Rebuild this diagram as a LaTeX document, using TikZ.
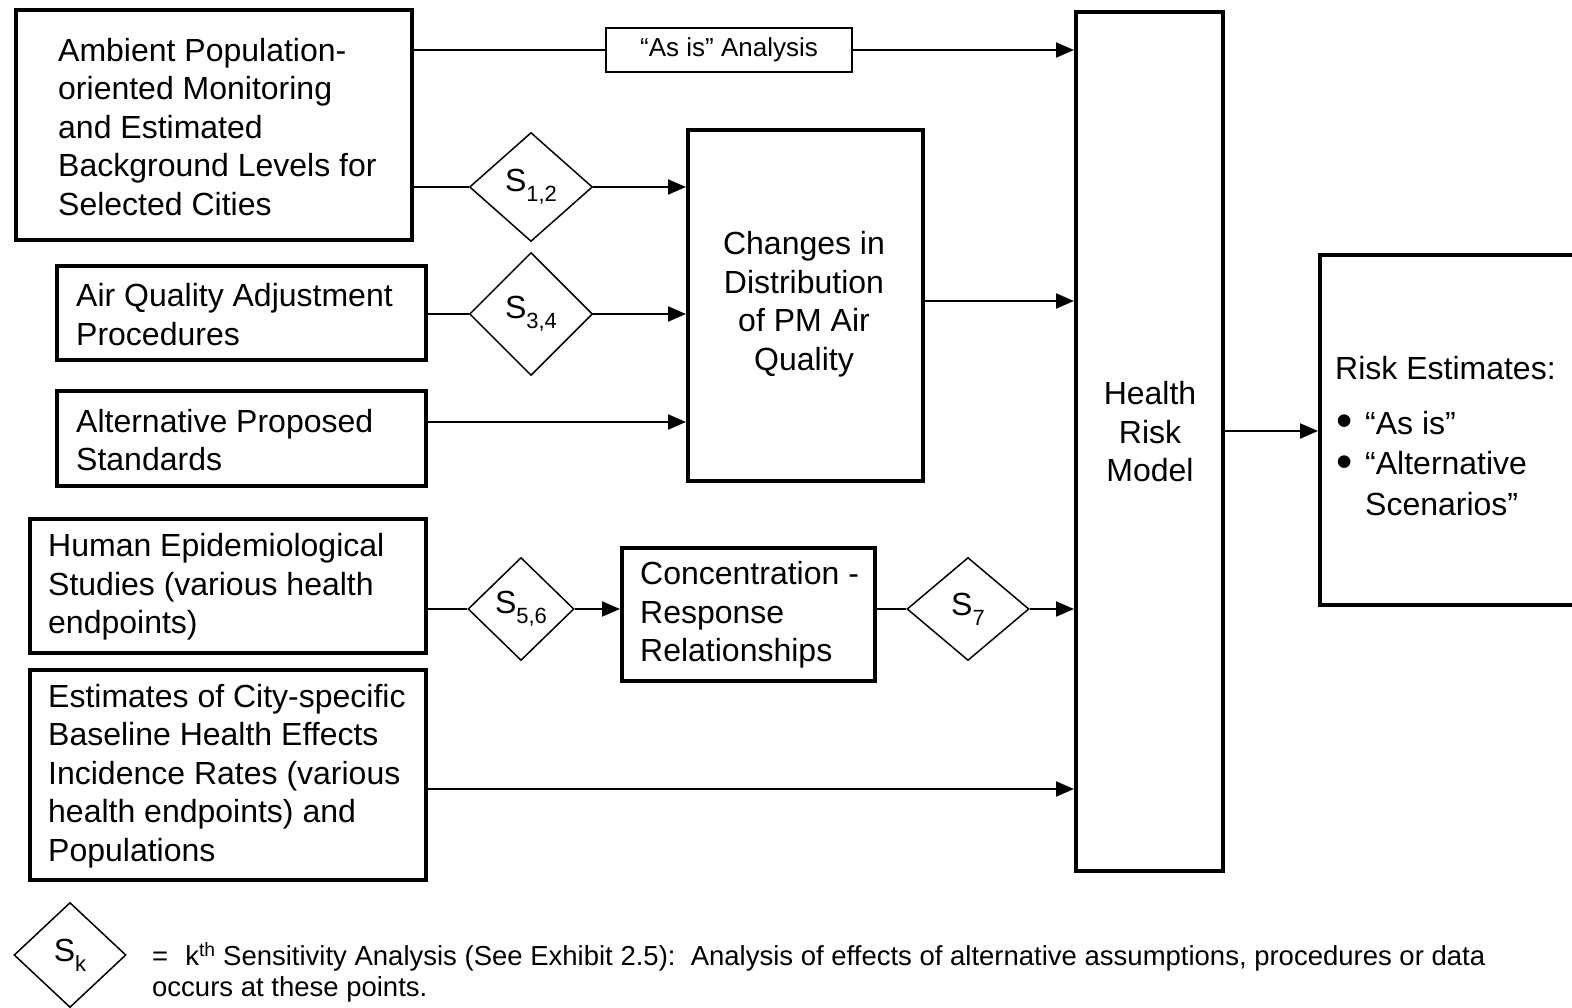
\documentclass[tikz,border=0pt]{standalone}
\usepackage{fontspec}
\usepackage{graphicx}
\setmainfont{Liberation Sans}
\usetikzlibrary{shapes.geometric,arrows.meta}
\newcommand{\Ssub}[1]{S\raisebox{-10pt}{\fontsize{22}{22}\selectfont #1}}
\newcommand{\bigbul}{\hspace{1pt}\raisebox{-2.5pt}{\scalebox{1.45}{•}}}
\begin{document}
\begin{tikzpicture}[x=1pt,y=-1pt,
  box/.style={draw, line width=4pt, inner sep=0pt},
  thinbox/.style={draw, line width=1.8pt, inner sep=0pt},
  dia/.style={draw, diamond, line width=1.5pt, inner sep=0pt, font=\fontsize{32}{38.5}\selectfont},
  txt/.style={inner sep=0pt, align=left, font=\fontsize{32}{38.5}\selectfont},
  ctxt/.style={inner sep=0pt, align=center, font=\fontsize{32}{38.5}\selectfont},
  conn/.style={line width=2pt},
  arr/.style={conn, -{Triangle[length=18pt,width=15pt]}}
]
\useasboundingbox (0,0) rectangle (1572,1008);
\clip (0,0) rectangle (1572,1008);

% boxes
\node[box, minimum width=396pt, minimum height=230pt] (amb) at (214,125) {};
\node[txt, anchor=west] (ambt) at (58,127) {Ambient Population-\\oriented Monitoring\\and Estimated\\Background Levels for\\Selected Cities};

\node[thinbox, minimum width=246pt, minimum height=44pt, font=\fontsize{26}{30}\selectfont] (asis) at (729,50) {“As is” Analysis};

\node[box, minimum width=147pt, minimum height=859pt] (hrm) at (1149.5,441.5) {};
\node[ctxt] (hrmt) at (1150,432) {Health\\Risk\\Model};

\node[box, minimum width=300pt, minimum height=350pt] (risk) at (1470,430) {};
\node[txt, anchor=west] (riskt) at (1335,436) {Risk Estimates:\\[16pt]\makebox[30pt][l]{\bigbul}“As is”\\[2pt]\makebox[30pt][l]{\bigbul}“Alternative\\[2pt]\hspace*{30pt}Scenarios”};

\node[box, minimum width=235pt, minimum height=351pt] (chg) at (805.5,305.5) {};
\node[ctxt] (chgt) at (804,304) {Changes in\\Distribution\\of PM Air\\Quality};

\node[box, minimum width=369pt, minimum height=94pt] (aq) at (241.5,313) {};
\node[txt, anchor=west] (aqt) at (76,314.5) {Air Quality Adjustment\\Procedures};

\node[box, minimum width=369pt, minimum height=95pt] (alt) at (241.5,438.5) {};
\node[txt, anchor=west] (altt) at (76,440) {Alternative Proposed\\Standards};

\node[box, minimum width=396pt, minimum height=134pt] (hum) at (228,586) {};
\node[txt, anchor=west] (humt) at (48,587) {Human Epidemiological\\Studies (various health\\endpoints)};

\node[box, minimum width=396pt, minimum height=210pt] (est) at (228,775) {};
\node[txt, anchor=west] (estt) at (48,776) {Estimates of City-specific\\Baseline Health Effects\\Incidence Rates (various\\health endpoints) and\\Populations};

\node[box, minimum width=253pt, minimum height=133pt] (conc) at (748.5,614.5) {};
\node[txt, anchor=west] (conct) at (640,615) {Concentration -\\Response\\Relationships};

% diamonds
\node[dia, minimum width=123pt, minimum height=109pt] (d12) at (531,187) {\Ssub{1,2}};
\node[dia, minimum width=123pt, minimum height=123pt] (d34) at (531,314) {\Ssub{3,4}};
\node[dia, minimum width=106pt, minimum height=103pt] (d56) at (521,609) {\Ssub{5,6}};
\node[dia, minimum width=122pt, minimum height=103pt] (d7) at (968,609) {\Ssub{7}};

% connectors
\draw[conn] (amb.east |- asis.west) -- (asis.west);
\draw[arr] (asis.east) -- (asis.east -| hrm.west);
\draw[conn] (amb.east |- d12.west) -- (d12.west);
\draw[arr] (d12.east) -- (d12.east -| chg.west);
\draw[conn] (aq.east |- d34.west) -- (d34.west);
\draw[arr] (d34.east) -- (d34.east -| chg.west);
\draw[arr] (alt.east |- 0,422) -- (chg.west |- 0,422);
\draw[arr] (chg.east |- 0,301) -- (hrm.west |- 0,301);
\draw[conn] (hum.east |- d56.west) -- (d56.west);
\draw[arr] (d56.east) -- (d56.east -| conc.west);
\draw[conn] (conc.east |- d7.west) -- (d7.west);
\draw[arr] (d7.east) -- (d7.east -| hrm.west);
\draw[arr] (est.east |- 0,789) -- (hrm.west |- 0,789);
\draw[arr] (hrm.east |- 0,431) -- (risk.west |- 0,431);

% legend
\node[dia, minimum width=112pt, minimum height=105pt] (dk) at (70,955) {\Ssub{k}};
\node[inner sep=0pt, anchor=west, align=left, font=\fontsize{27.5}{31}\selectfont] (legt) at (152,972) {=\hspace{17pt}k\textsuperscript{th} Sensitivity Analysis (See Exhibit 2.5):\ \ Analysis of effects of alternative assumptions, procedures or data\\occurs at these points.};
\end{tikzpicture}
\end{document}
